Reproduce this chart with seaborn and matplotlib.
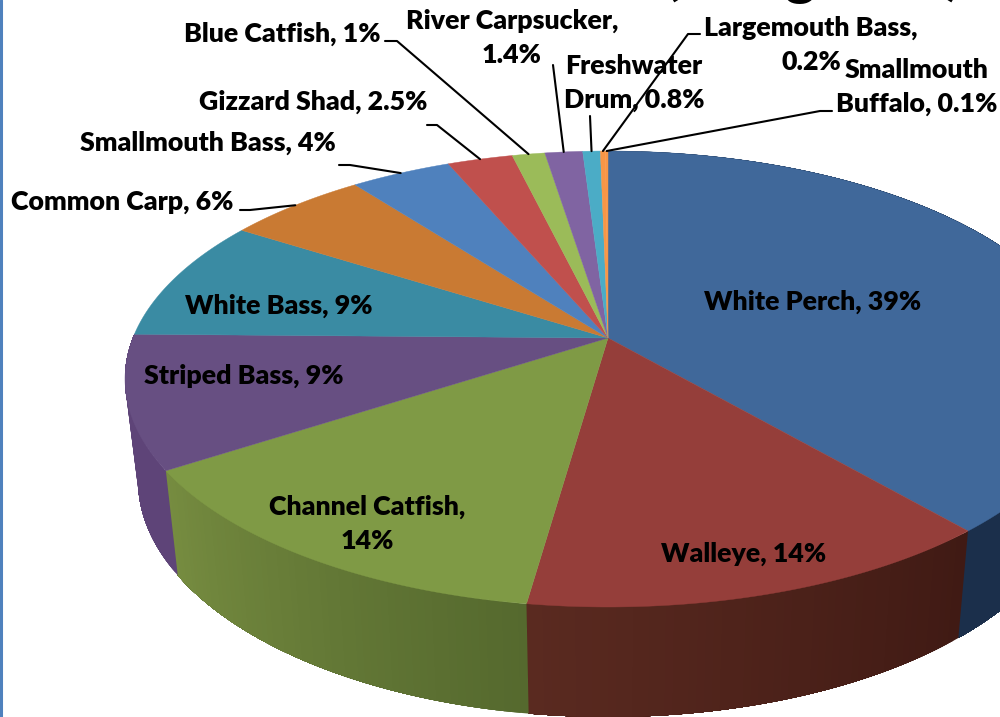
import numpy as np
import matplotlib
matplotlib.use('Agg')
import matplotlib.pyplot as plt
import seaborn as sns

# Dati della torta (percentuali stimate dalla figura, le etichette sono arrotondate)
species = ['White Perch', 'Walleye', 'Channel Catfish', 'Striped Bass', 'White Bass',
           'Common Carp', 'Smallmouth Bass', 'Gizzard Shad', 'Blue Catfish',
           'River Carpsucker', 'Freshwater Drum', 'Largemouth Bass', 'Smallmouth Buffalo']
percent = [38.6, 13.6, 13.6, 9.4, 8.7, 5.6, 4.0, 2.6, 1.3, 1.5, 0.7, 0.2, 0.1]
labels = ['White Perch, 39%', 'Walleye, 14%', 'Channel Catfish,\n14%', 'Striped Bass, 9%',
          'White Bass, 9%', 'Common Carp, 6%', 'Smallmouth Bass, 4%', 'Gizzard Shad, 2.5%',
          'Blue Catfish, 1%', 'River Carpsucker,\n1.4%', 'Freshwater\nDrum, 0.8%',
          'Largemouth Bass,\n0.2%', 'Smallmouth\nBuffalo, 0.1%']

top_colors = ['#40689a', '#953e3a', '#7f9a45', '#674f82', '#3a8ba3', '#c97a33',
              '#4f81bd', '#c0504d', '#9bbb59', '#8064a2', '#4bacc6', '#f79646', '#f79646']
side_colors = {0: ('#1b2f4b', '#1b2f4b'), 1: ('#401a14', '#5a2a20'),
               2: ('#55692e', '#768c40'), 3: ('#5e4478', '#5e4478')}

# Posizione etichette e linee guida (gomito orizzontale poi diagonale)
label_pos = [(813, 302), (744, 554), (367, 524), (244, 376), (279, 306), (122, 202),
             (208, 143), (313, 102), (282, 34), (512, 38), (634, 83), (811, 45), (917, 87)]
leader_start = {5: (240, 210), 6: (339, 165), 7: (427, 125), 8: (385, 41), 9: (553, 65),
                10: (590, 116), 11: (700, 34), 12: (832, 111)}
leader_elbow = {5: (250, 210), 6: (350, 165), 7: (437, 125), 8: (397, 41), 9: (553, 65),
                10: (590, 116), 11: (688, 34), 12: (820, 111)}

# Geometria: ellisse superiore, ellisse inferiore, prospettiva
cx = 608
cy_top, rx_top, ry_top = 379, 483, 228
cy_bot, rx_bot, ry_bot = 480, 470, 237
apex = (608, 338)
persp = (cy_top - apex[1]) / ry_top


def rim(theta, cy, rx, ry):
    u, v = np.sin(theta), np.cos(theta)
    w = 1 + persp * v
    return cx + rx * u * np.sqrt(1 - persp ** 2) / w, cy - ry * (v + persp) / w


sns.set_theme(style='white')
plt.rcParams['font.family'] = ['Lato', 'DejaVu Sans']

fig = plt.figure(figsize=(10, 7.17), dpi=100)
ax = fig.add_axes([0, 0, 1, 1])
ax.set_xlim(0, 1000)
ax.set_ylim(717, 0)
ax.axis('off')

edges = np.cumsum([0] + percent) / sum(percent) * 2 * np.pi

# Lati della torta: ogni passo copre il resto della fetta, cosi' la sfumatura non ha righe
for i, (c1, c2) in side_colors.items():
    steps = 60
    grad = sns.blend_palette([c1, c2], steps)
    th = np.linspace(edges[i], edges[i + 1], steps + 1)
    for k in range(steps):
        t = np.linspace(th[k], edges[i + 1], 80)
        xt, yt = rim(t, cy_top, rx_top, ry_top)
        xb, yb = rim(t[::-1], cy_bot, rx_bot, ry_bot)
        ax.fill(np.r_[xt, xb], np.r_[yt, yb], color=grad[k], lw=0)

# Faccia superiore
for i in range(len(percent)):
    t = np.linspace(edges[i], edges[i + 1], 120)
    x, y = rim(t, cy_top, rx_top, ry_top)
    ax.fill(np.r_[apex[0], x], np.r_[apex[1], y], color=top_colors[i], lw=0.3)

# Etichette e linee guida
for i, lab in enumerate(labels):
    ax.text(label_pos[i][0], label_pos[i][1], lab, ha='center', va='center',
            fontsize=19.3, fontweight='heavy', color='black', linespacing=1.48)
    if i in leader_start:
        mid = (edges[i] + edges[i + 1]) / 2
        rx_, ry_ = rim(mid, cy_top, rx_top, ry_top)
        sx, sy = leader_start[i]
        ex, ey = leader_elbow[i]
        ax.plot([sx, ex, rx_], [sy, ey, ry_], color='black', lw=1.5, solid_joinstyle='round')

# Barra blu a sinistra e titolo tagliato dal bordo
ax.axvline(1, color='#4f81bd', lw=2.2)
ax.text(813, -7, '(Kilograms)', ha='center', va='baseline', fontsize=43, fontweight='bold', color='black')

fig.savefig('out.png', dpi=100)
